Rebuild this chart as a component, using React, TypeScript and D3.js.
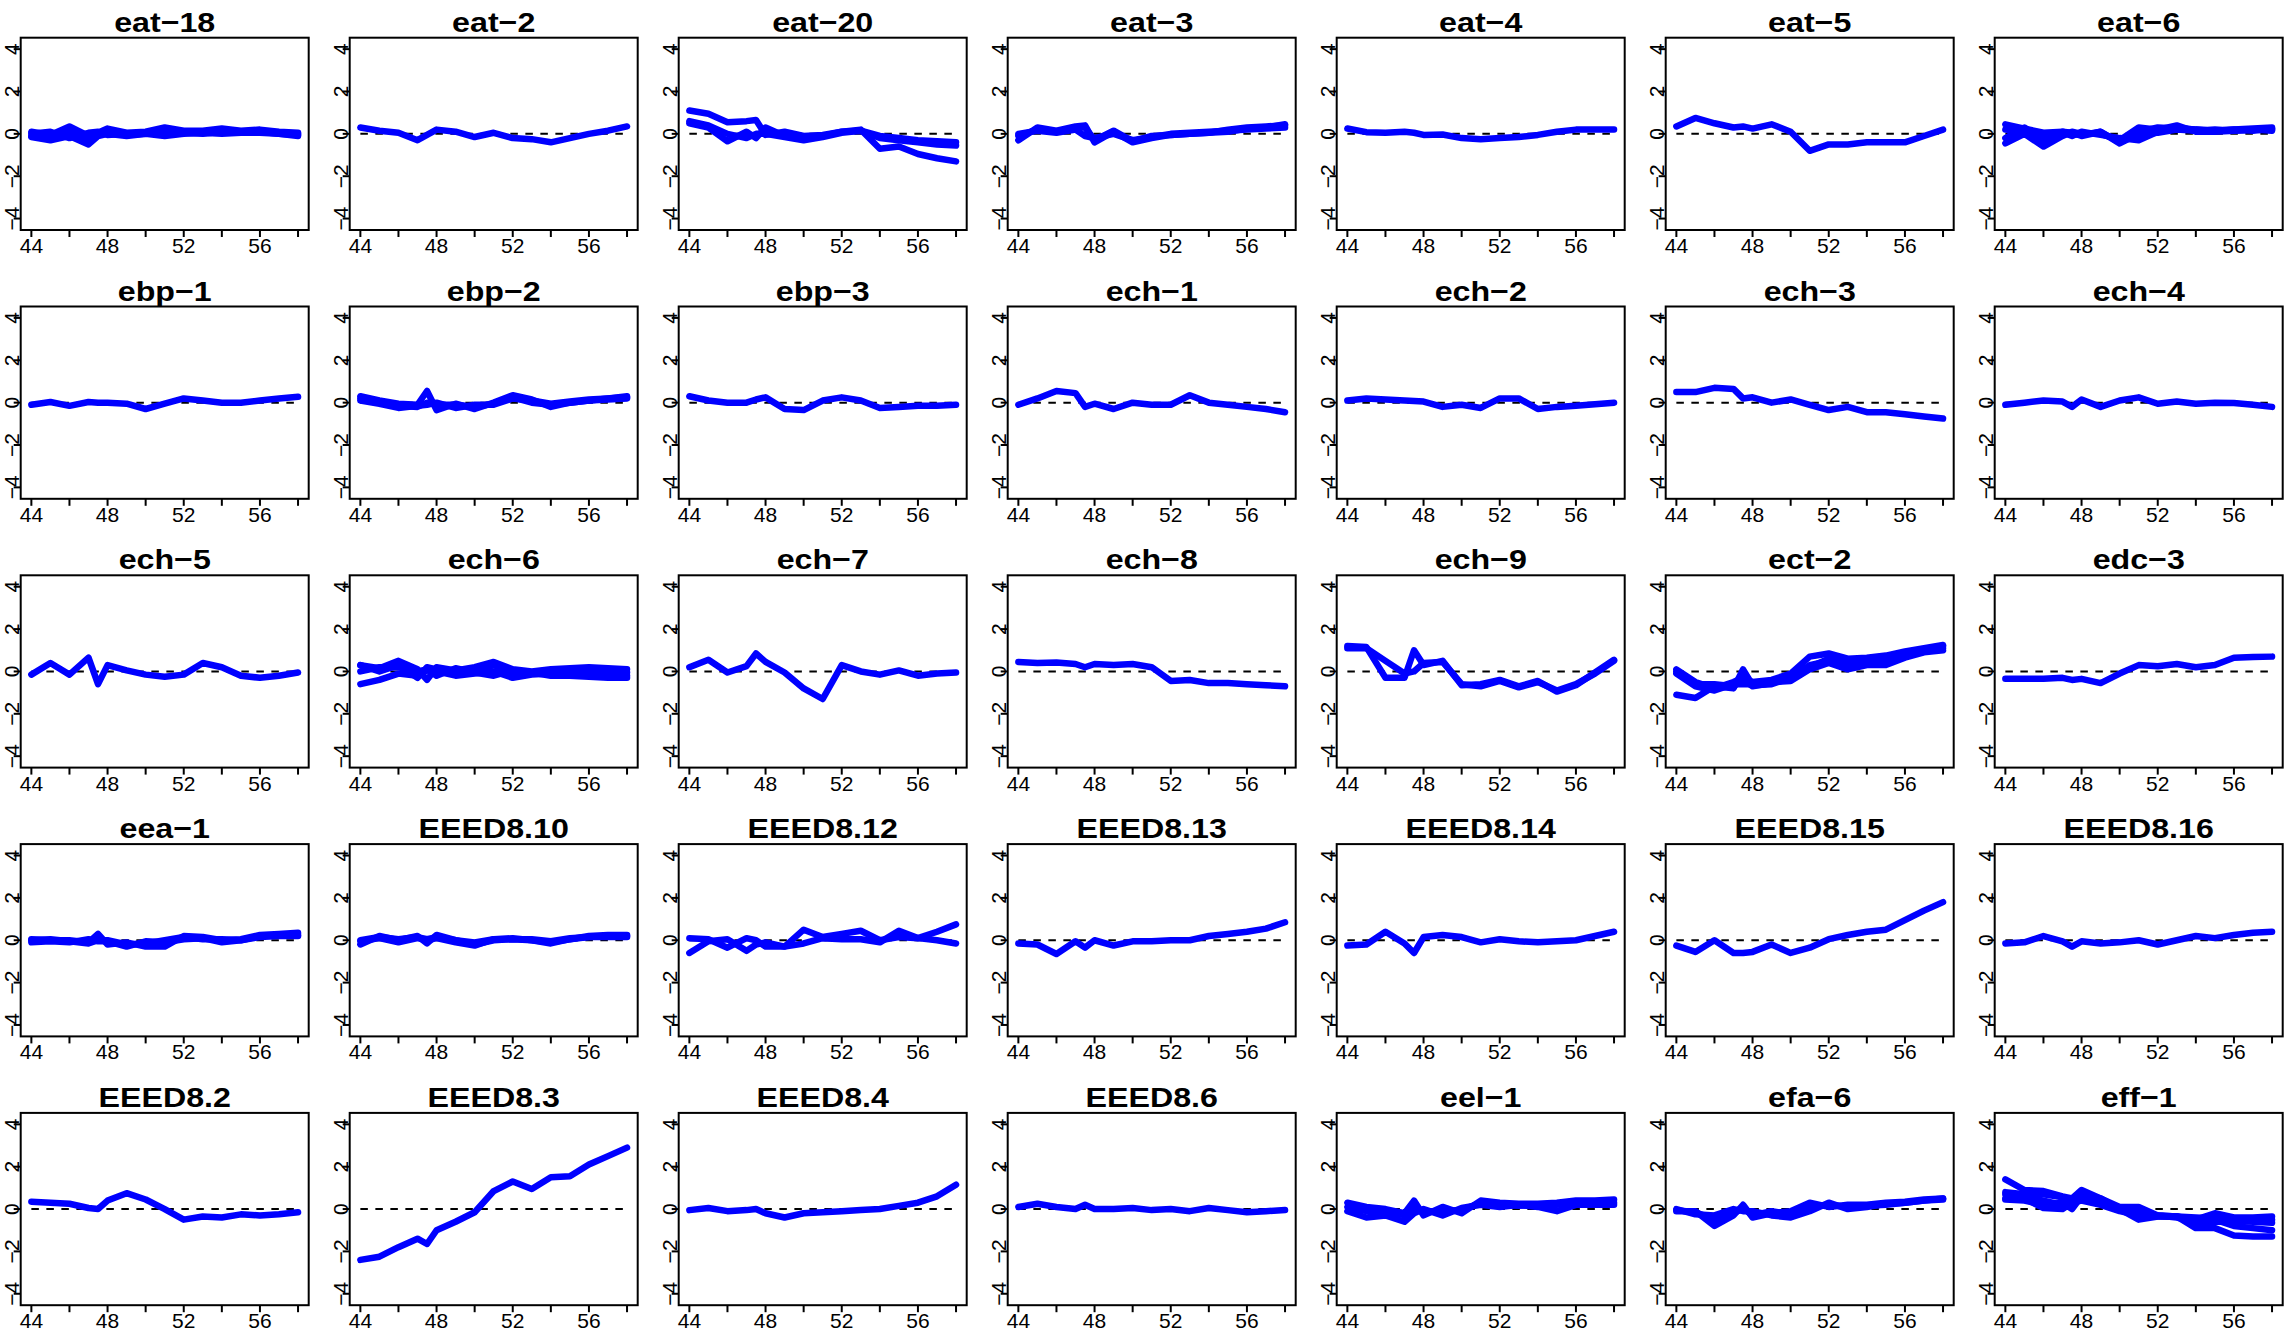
import React from 'react';
import * as d3 from 'd3';

// x positions shared by every series
const XS = [44, 45, 46, 47, 47.5, 48, 49, 50, 51, 52, 53, 54, 55, 56, 57, 58];
const X_TICKS = [44, 46, 48, 50, 52, 54, 56, 58];
const X_LABELS = [44, 48, 52, 56];
const Y_TICKS = [-4, -2, 0, 2, 4];

// ---- row 1 ----
const eat18 = [
  [0.1, -0.05, 0.35, -0.1, 0.05, 0.25, 0.05, 0.1, 0.3, 0.15, 0.15, 0.25, 0.15, 0.2, 0.1, 0.05],
  [-0.15, -0.3, -0.1, -0.5, -0.1, 0.0, -0.1, 0.0, -0.1, 0.0, 0.05, 0.0, 0.05, 0.05, 0.0, -0.05],
  [0.0, 0.1, -0.2, 0.05, 0.1, -0.05, 0.0, 0.05, 0.15, 0.1, 0.1, 0.15, 0.1, 0.15, 0.05, 0.0],
  [-0.1, -0.2, 0.1, -0.3, 0.0, 0.1, -0.05, 0.0, 0.05, 0.05, 0.0, 0.1, 0.1, 0.1, 0.0, -0.1],
];
const eat2 = [
  [0.3, 0.15, 0.05, -0.3, -0.05, 0.2, 0.1, -0.15, 0.05, -0.2, -0.25, -0.4, -0.2, 0.0, 0.15, 0.35],
];
const eat20 = [
  [1.1, 0.95, 0.55, 0.6, 0.65, -0.05, 0.1, -0.1, -0.05, 0.1, 0.15, -0.1, -0.2, -0.3, -0.35, -0.4],
  [0.5, 0.3, -0.35, 0.1, -0.2, 0.3, -0.1, -0.25, -0.1, 0.1, 0.2, -0.7, -0.6, -0.95, -1.15, -1.3],
  [0.6, 0.4, 0.0, -0.2, 0.0, 0.0, -0.15, -0.3, -0.15, 0.05, 0.15, -0.2, -0.3, -0.4, -0.5, -0.55],
];
const eat3 = [
  [-0.3, 0.3, 0.15, 0.35, 0.4, -0.4, 0.1, -0.4, -0.2, -0.05, 0.0, 0.05, 0.2, 0.3, 0.35, 0.4],
  [0.0, 0.15, 0.05, 0.2, -0.1, -0.2, 0.0, -0.3, -0.15, 0.0, 0.05, 0.1, 0.15, 0.2, 0.25, 0.3],
  [-0.1, 0.2, 0.1, 0.3, 0.3, -0.3, 0.15, -0.35, -0.1, -0.05, 0.0, 0.05, 0.1, 0.25, 0.3, 0.45],
];
const eat4 = [
  [0.25, 0.08, 0.05, 0.1, 0.05, -0.05, -0.03, -0.2, -0.25, -0.2, -0.15, -0.05, 0.1, 0.2, 0.2, 0.2],
];
const eat5 = [
  [0.35, 0.75, 0.5, 0.3, 0.35, 0.25, 0.45, 0.1, -0.8, -0.5, -0.5, -0.4, -0.4, -0.4, -0.1, 0.2],
];
const eat6 = [
  [0.45, 0.25, 0.05, 0.1, 0.05, -0.1, 0.1, -0.4, 0.1, 0.3, 0.25, 0.2, 0.15, 0.2, 0.25, 0.3],
  [-0.45, 0.0, -0.6, -0.1, 0.1, 0.0, 0.0, -0.3, 0.3, 0.2, 0.4, 0.1, 0.1, 0.15, 0.2, 0.2],
  [0.2, 0.1, -0.2, 0.05, -0.1, 0.1, -0.05, -0.2, -0.3, 0.1, 0.3, 0.2, 0.15, 0.2, 0.15, 0.25],
  [-0.2, 0.3, -0.3, 0.1, 0.0, -0.05, 0.1, -0.45, 0.0, 0.05, 0.2, 0.15, 0.2, 0.15, 0.2, 0.15],
];

// ---- row 2 ----
const ebp1 = [
  [-0.1, 0.03, -0.15, 0.03, 0.0, 0.0, -0.05, -0.3, -0.05, 0.2, 0.1, 0.0, 0.0, 0.1, 0.2, 0.28],
];
const ebp2 = [
  [0.3, 0.1, -0.05, -0.1, 0.55, -0.35, -0.05, -0.3, 0.0, 0.35, 0.15, -0.2, 0.0, 0.1, 0.2, 0.3],
  [0.1, -0.05, -0.25, -0.15, -0.1, 0.0, -0.25, -0.1, -0.1, 0.2, 0.1, -0.05, 0.05, 0.15, 0.2, 0.25],
  [0.2, 0.05, -0.15, -0.2, 0.0, -0.1, -0.1, -0.2, -0.05, 0.25, 0.0, -0.1, 0.0, 0.1, 0.15, 0.2],
];
const ebp3 = [
  [0.3, 0.1, 0.0, 0.0, 0.15, 0.25, -0.3, -0.35, 0.1, 0.25, 0.1, -0.25, -0.2, -0.15, -0.15, -0.1],
];
const ech1 = [
  [-0.1, 0.2, 0.55, 0.45, -0.2, -0.05, -0.3, 0.0, -0.1, -0.1, 0.35, 0.0, -0.1, -0.2, -0.3, -0.45],
];
const ech2 = [
  [0.1, 0.2, 0.15, 0.1, 0.08, 0.05, -0.2, -0.1, -0.25, 0.2, 0.2, -0.3, -0.2, -0.15, -0.08, 0.0],
];
const ech3 = [
  [0.5, 0.5, 0.7, 0.65, 0.2, 0.25, 0.0, 0.15, -0.1, -0.35, -0.2, -0.45, -0.45, -0.55, -0.65, -0.75],
];
const ech4 = [
  [-0.1, 0.0, 0.1, 0.05, -0.2, 0.15, -0.2, 0.1, 0.25, -0.05, 0.05, -0.05, 0.0, -0.02, -0.1, -0.2],
];

// ---- row 3 ----
const ech5 = [
  [-0.15, 0.4, -0.15, 0.65, -0.6, 0.3, 0.05, -0.15, -0.25, -0.15, 0.4, 0.2, -0.2, -0.3, -0.2, -0.05],
];
const ech6 = [
  [0.3, 0.15, 0.5, 0.1, -0.4, 0.2, 0.05, 0.2, 0.45, 0.1, 0.0, 0.1, 0.15, 0.2, 0.15, 0.1],
  [-0.6, -0.4, -0.1, -0.2, 0.05, 0.0, -0.2, -0.1, 0.0, -0.3, -0.15, -0.1, -0.05, -0.1, -0.15, -0.2],
  [0.0, 0.2, 0.2, 0.0, 0.1, -0.2, 0.15, -0.05, -0.2, 0.05, -0.05, -0.2, -0.2, -0.25, -0.3, -0.3],
  [0.3, 0.0, 0.3, -0.3, 0.2, 0.1, -0.05, 0.0, 0.3, -0.1, -0.1, 0.0, 0.0, 0.05, 0.0, -0.05],
];
const ech7 = [
  [0.2, 0.55, -0.05, 0.25, 0.85, 0.45, -0.05, -0.8, -1.3, 0.3, 0.0, -0.15, 0.05, -0.2, -0.1, -0.05],
];
const ech8 = [
  [0.45, 0.4, 0.42, 0.35, 0.2, 0.35, 0.3, 0.35, 0.2, -0.45, -0.4, -0.55, -0.55, -0.6, -0.65, -0.7],
];
const ech9 = [
  [1.2, 1.15, -0.3, -0.3, 1.0, 0.3, 0.5, -0.65, -0.6, -0.4, -0.7, -0.45, -0.95, -0.65, -0.05, 0.55],
  [1.1, 1.1, 0.5, -0.1, 0.0, 0.4, 0.45, -0.6, -0.7, -0.45, -0.75, -0.5, -0.9, -0.6, -0.1, 0.5],
];
const ect2 = [
  [0.1, -0.5, -0.8, -0.5, -0.3, -0.5, -0.4, -0.1, 0.7, 0.85, 0.6, 0.65, 0.75, 0.95, 1.1, 1.25],
  [-1.1, -1.25, -0.7, -0.8, 0.1, -0.65, -0.6, -0.3, 0.3, 0.5, 0.3, 0.4, 0.35, 0.75, 0.95, 1.1],
  [-0.1, -0.7, -0.9, -0.6, -0.6, -0.6, -0.5, -0.45, 0.1, 0.4, 0.1, 0.3, 0.3, 0.65, 0.9, 1.0],
  [0.0, -0.6, -0.6, -0.7, -0.4, -0.7, -0.55, -0.2, 0.2, 0.6, 0.45, 0.5, 0.6, 0.8, 1.0, 1.2],
];
const edc3 = [
  [-0.35, -0.35, -0.35, -0.3, -0.4, -0.35, -0.55, -0.1, 0.3, 0.25, 0.35, 0.2, 0.3, 0.65, 0.68, 0.7],
];

// ---- row 4 ----
const eea1 = [
  [0.05, 0.0, 0.0, -0.1, 0.3, -0.2, -0.1, -0.3, -0.3, 0.2, 0.15, 0.0, 0.05, 0.25, 0.3, 0.35],
  [-0.1, -0.05, -0.1, 0.05, -0.05, -0.05, -0.3, -0.05, -0.1, 0.05, 0.1, -0.1, 0.0, 0.15, 0.2, 0.2],
  [0.0, 0.05, -0.05, -0.15, 0.0, 0.0, -0.2, -0.15, 0.0, 0.15, 0.05, 0.05, 0.0, 0.2, 0.25, 0.25],
];
const eeed8_10 = [
  [-0.2, 0.2, 0.0, 0.2, -0.15, 0.25, 0.0, -0.2, 0.0, 0.05, 0.0, -0.15, 0.05, 0.15, 0.2, 0.2],
  [-0.05, 0.1, -0.1, 0.1, 0.0, 0.1, -0.1, -0.25, 0.05, 0.05, 0.05, -0.05, 0.1, 0.15, 0.15, 0.15],
  [0.0, 0.15, 0.05, 0.15, 0.05, 0.15, 0.0, -0.1, 0.05, 0.1, 0.0, -0.1, 0.05, 0.2, 0.25, 0.25],
];
const eeed8_12 = [
  [0.1, 0.05, -0.35, 0.1, 0.0, -0.3, -0.3, 0.5, 0.15, 0.3, 0.45, 0.0, 0.15, 0.1, 0.4, 0.75],
  [-0.6, -0.05, 0.05, -0.5, -0.2, -0.1, -0.3, -0.15, 0.1, 0.05, 0.05, -0.1, 0.45, 0.1, 0.0, -0.15],
];
const eeed8_13 = [
  [-0.15, -0.2, -0.65, -0.05, -0.35, 0.0, -0.25, -0.05, -0.05, 0.0, 0.0, 0.2, 0.3, 0.4, 0.55, 0.85],
];
const eeed8_14 = [
  [-0.25, -0.2, 0.4, -0.15, -0.6, 0.15, 0.25, 0.15, -0.1, 0.05, -0.05, -0.1, -0.05, 0.0, 0.2, 0.4],
];
const eeed8_15 = [
  [-0.25, -0.55, 0.0, -0.6, -0.6, -0.55, -0.2, -0.6, -0.35, 0.05, 0.25, 0.4, 0.5, 0.95, 1.4, 1.8],
];
const eeed8_16 = [
  [-0.15, -0.1, 0.2, -0.05, -0.3, -0.05, -0.15, -0.1, 0.0, -0.2, 0.0, 0.2, 0.1, 0.25, 0.35, 0.4],
];

// ---- row 5 ----
const eeed8_2 = [
  [0.35, 0.3, 0.25, 0.05, 0.0, 0.4, 0.75, 0.45, 0.0, -0.5, -0.35, -0.4, -0.25, -0.3, -0.25, -0.15],
];
const eeed8_3 = [
  [-2.4, -2.25, -1.8, -1.4, -1.65, -1.0, -0.6, -0.15, 0.85, 1.3, 0.95, 1.5, 1.55, 2.1, 2.5, 2.9],
];
const eeed8_4 = [
  [-0.05, 0.05, -0.1, -0.05, 0.0, -0.2, -0.4, -0.2, -0.15, -0.1, -0.05, 0.0, 0.15, 0.3, 0.6, 1.15],
];
const eeed8_6 = [
  [0.1, 0.25, 0.1, 0.0, 0.2, 0.0, 0.0, 0.05, -0.05, 0.0, -0.1, 0.05, -0.05, -0.15, -0.1, -0.05],
];
const eel1 = [
  [0.3, 0.1, 0.0, -0.2, 0.4, -0.3, 0.1, -0.2, 0.4, 0.3, 0.25, 0.25, 0.3, 0.4, 0.4, 0.45],
  [-0.1, -0.4, -0.3, -0.6, -0.2, 0.0, -0.3, 0.05, 0.2, 0.1, 0.2, 0.1, -0.1, 0.2, 0.2, 0.2],
  [0.1, -0.1, -0.1, -0.3, 0.0, -0.1, -0.1, -0.05, 0.3, 0.2, 0.15, 0.2, 0.2, 0.3, 0.35, 0.3],
];
const efa6 = [
  [-0.1, -0.1, -0.8, -0.3, 0.2, -0.4, -0.2, -0.1, 0.3, 0.1, 0.2, 0.2, 0.3, 0.35, 0.45, 0.5],
  [0.0, -0.25, -0.3, 0.0, -0.1, -0.1, -0.3, -0.4, -0.1, 0.3, 0.0, 0.1, 0.25, 0.3, 0.4, 0.45],
  [-0.05, -0.15, -0.5, -0.2, 0.05, -0.3, -0.1, -0.25, 0.1, 0.2, 0.1, 0.15, 0.2, 0.3, 0.4, 0.5],
];
const eff1 = [
  [1.4, 0.9, 0.85, 0.6, 0.5, 0.9, 0.5, 0.1, 0.1, -0.3, -0.35, -0.5, -0.2, -0.4, -0.4, -0.35],
  [0.8, 0.7, 0.7, 0.55, 0.4, 0.7, 0.5, 0.0, -0.5, -0.35, -0.35, -0.9, -0.9, -1.25, -1.3, -1.3],
  [0.5, 0.5, 0.05, 0.0, 0.3, 0.4, 0.2, -0.1, -0.3, -0.3, -0.4, -0.6, -0.5, -0.8, -0.9, -1.0],
  [0.45, 0.4, 0.2, 0.3, 0.0, 0.6, 0.3, -0.05, -0.05, -0.35, -0.35, -0.4, -0.45, -0.55, -0.6, -0.65],
  [0.7, 0.6, 0.4, 0.2, 0.5, 0.5, 0.4, 0.0, -0.2, -0.3, -0.35, -0.6, -0.6, -0.6, -0.55, -0.5],
];

const TITLES = [
  'eat\u221218', 'eat\u22122', 'eat\u221220', 'eat\u22123', 'eat\u22124', 'eat\u22125', 'eat\u22126',
  'ebp\u22121', 'ebp\u22122', 'ebp\u22123', 'ech\u22121', 'ech\u22122', 'ech\u22123', 'ech\u22124',
  'ech\u22125', 'ech\u22126', 'ech\u22127', 'ech\u22128', 'ech\u22129', 'ect\u22122', 'edc\u22123',
  'eea\u22121', 'EEED8.10', 'EEED8.12', 'EEED8.13', 'EEED8.14', 'EEED8.15', 'EEED8.16',
  'EEED8.2', 'EEED8.3', 'EEED8.4', 'EEED8.6', 'eel\u22121', 'efa\u22126', 'eff\u22121',
];
const PANELS = [
  eat18, eat2, eat20, eat3, eat4, eat5, eat6,
  ebp1, ebp2, ebp3, ech1, ech2, ech3, ech4,
  ech5, ech6, ech7, ech8, ech9, ect2, edc3,
  eea1, eeed8_10, eeed8_12, eeed8_13, eeed8_14, eeed8_15, eeed8_16,
  eeed8_2, eeed8_3, eeed8_4, eeed8_6, eel1, efa6, eff1,
];

const W = 2285;
const H = 1333;
const COLS = 7;
const LEFT0 = 20.7;
const COL_PITCH = 329;
const BOX_W = 288;
const TOP0 = 37.7;
const ROW_PITCH = 268.8;
const BOX_H = 192.3;
const TICK = 7;

const fmt = (v: number) => (v < 0 ? '\u2212' + Math.abs(v) : String(v));

export default function App() {
  const x = d3.scaleLinear().domain([43.44, 58.56]).range([0, BOX_W]);
  const y = d3.scaleLinear().domain([-4.54, 4.54]).range([BOX_H, 0]);
  const line = d3
    .line<number>()
    .x((_, i) => x(XS[i]))
    .y((d) => y(d));

  return (
    <svg
      width={W}
      height={H}
      viewBox={`0 0 ${W} ${H}`}
      style={{ position: 'absolute', left: 0, top: 0, background: '#ffffff', display: 'block' }}
      fontFamily="'Liberation Sans', Arial, Helvetica, sans-serif"
    >
      <rect x={0} y={0} width={W} height={H} fill="#ffffff" />
      {TITLES.map((t, k) => {
        const c = k % COLS;
        const r = Math.floor(k / COLS);
        const tx = LEFT0 + c * COL_PITCH;
        const ty = TOP0 + r * ROW_PITCH;
        return (
          <g key={k} transform={`translate(${tx},${ty})`}>
            <text
              transform={`translate(${BOX_W / 2},${-6}) scale(1.15,1)`}
              textAnchor="middle"
              fontWeight="bold"
              fontSize={28}
              fill="#000"
            >
              {t}
            </text>
            <line
              x1={x(44)}
              x2={x(58)}
              y1={y(0)}
              y2={y(0)}
              stroke="#000"
              strokeWidth={2}
              strokeDasharray="7.5 7.5"
            />
            {PANELS[k].map((s, i) => (
              <path
                key={i}
                d={line(s) || ''}
                fill="none"
                stroke="#0000ff"
                strokeWidth={6.5}
                strokeLinejoin="round"
                strokeLinecap="round"
              />
            ))}
            <rect x={0} y={0} width={BOX_W} height={BOX_H} fill="none" stroke="#000" strokeWidth={2} />
            {X_TICKS.map((v) => (
              <line key={'xt' + v} x1={x(v)} x2={x(v)} y1={BOX_H} y2={BOX_H + TICK} stroke="#000" strokeWidth={2} />
            ))}
            {X_LABELS.map((v) => (
              <text
                key={'xl' + v}
                x={x(v)}
                y={BOX_H + 23}
                textAnchor="middle"
                fontSize={21}
                fill="#000"
              >
                {v}
              </text>
            ))}
            {Y_TICKS.map((v) => (
              <line key={'yt' + v} x1={-TICK} x2={0} y1={y(v)} y2={y(v)} stroke="#000" strokeWidth={2} />
            ))}
            {Y_TICKS.map((v) => (
              <text
                key={'yl' + v}
                transform={`translate(${-1.5},${y(v)}) rotate(-90)`}
                textAnchor="middle"
                fontSize={21}
                fill="#000"
              >
                {fmt(v)}
              </text>
            ))}
          </g>
        );
      })}
    </svg>
  );
}
